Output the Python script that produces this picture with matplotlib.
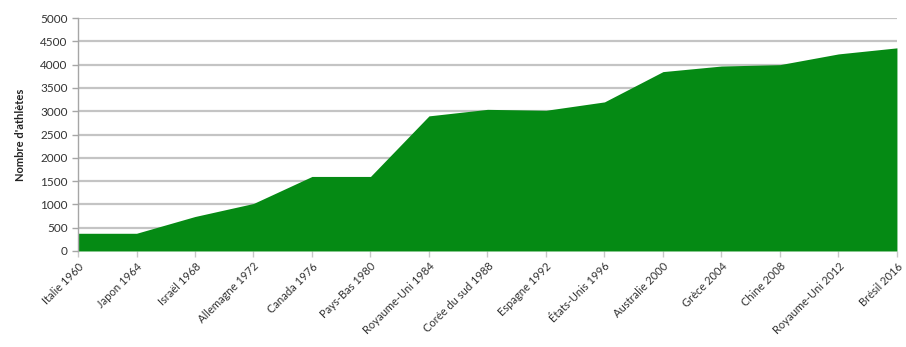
import matplotlib
matplotlib.use("Agg")
import matplotlib.pyplot as plt

# Jeux paralympiques d'été : nombre d'athlètes par édition
editions = [
    "Italie 1960", "Japon 1964", "Israël 1968", "Allemagne 1972",
    "Canada 1976", "Pays-Bas 1980", "Royaume-Uni 1984", "Corée du sud 1988",
    "Espagne 1992", "États-Unis 1996", "Australie 2000", "Grèce 2004",
    "Chine 2008", "Royaume-Uni 2012", "Brésil 2016",
]
athletes = [380, 380, 740, 1020, 1600, 1600, 2900, 3040,
            3020, 3200, 3850, 3970, 4000, 4230, 4360]
yticks = list(range(0, 5001, 500))

plt.rcParams['font.family'] = ['Lato', 'DejaVu Sans']

fig = plt.figure(figsize=(9.06, 3.47), dpi=100)
ax = fig.add_axes([0.0861, 0.2767, 0.9039, 0.6713])

x = list(range(len(editions)))
ax.fill_between(x, athletes, 0, color="#058a14", linewidth=0, zorder=2)

ax.set_xlim(0, len(editions) - 1)
ax.set_ylim(0, 5000)
ax.set_yticks(yticks)
ax.set_xticks(x)
ax.set_xticklabels(editions, rotation=45, ha="right", rotation_mode="anchor",
                   fontsize=8, color="#333333")
ax.tick_params(axis="y", labelsize=8.5, labelcolor="#333333", length=4,
               color="#a6a6a6", width=1)
ax.tick_params(axis="x", length=4, color="#c8c8c8", width=1, pad=3)

ax.grid(axis="y", color="#c4c4c4", linewidth=1.6, zorder=1)
for side in ["top", "right", "bottom"]:
    ax.spines[side].set_visible(False)
ax.spines["left"].set_color("#a6a6a6")
ax.spines["left"].set_linewidth(1)

ax.set_ylabel("Nombre d'athlètes", fontsize=8, fontweight="bold",
              color="#222222", labelpad=10)

fig.savefig("out.png", dpi=100)
